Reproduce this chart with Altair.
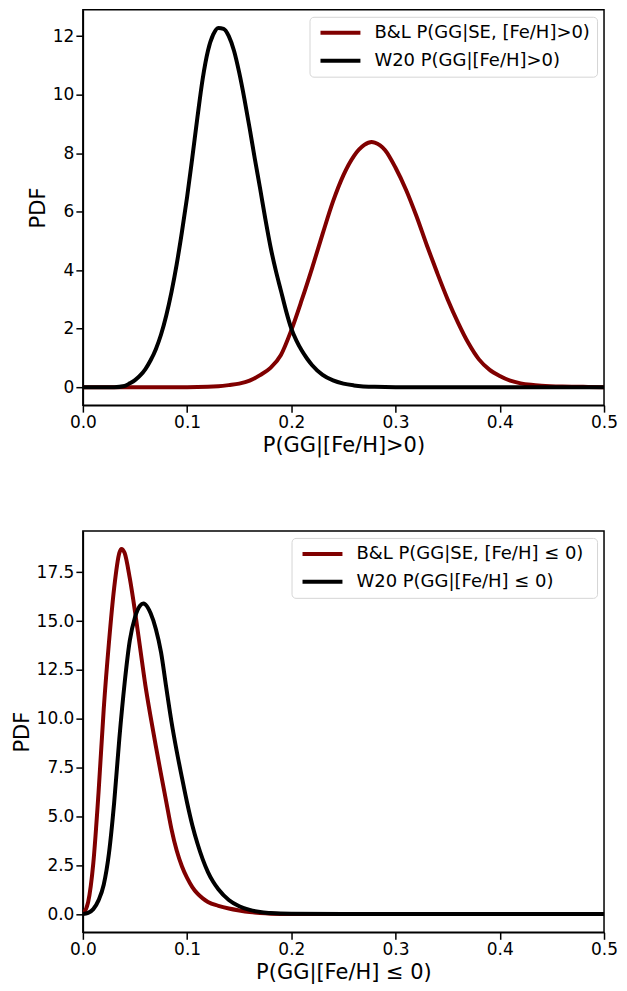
import altair as alt
import pandas as pd

# ---------- Top panel: [Fe/H] > 0 ----------
top_bl_x = [0.0, 0.10, 0.12, 0.13, 0.14, 0.15, 0.16, 0.17, 0.18, 0.19, 0.20, 0.21, 0.22, 0.23,
            0.24, 0.25, 0.26, 0.27, 0.277, 0.28, 0.29, 0.30, 0.31, 0.32, 0.33, 0.34, 0.35,
            0.36, 0.37, 0.38, 0.39, 0.40, 0.41, 0.42, 0.43, 0.44, 0.46, 0.48, 0.50]
top_bl_y = [0.0, 0.0, 0.01, 0.03, 0.07, 0.12, 0.22, 0.41, 0.66, 1.10, 1.95, 2.98, 4.08, 5.24,
            6.35, 7.25, 7.90, 8.28, 8.38, 8.36, 8.10, 7.50, 6.75, 5.85, 4.85, 3.90, 3.00,
            2.20, 1.50, 0.95, 0.60, 0.38, 0.22, 0.13, 0.08, 0.05, 0.02, 0.01, 0.0]

top_w20_x = [0.0, 0.03, 0.04, 0.045, 0.05, 0.055, 0.06, 0.065, 0.07, 0.075, 0.08, 0.085, 0.09,
             0.095, 0.10, 0.105, 0.11, 0.115, 0.12, 0.125, 0.13, 0.135, 0.14, 0.145, 0.15,
             0.155, 0.16, 0.165, 0.17, 0.175, 0.18, 0.185, 0.19, 0.195, 0.20, 0.205, 0.21,
             0.215, 0.22, 0.23, 0.24, 0.25, 0.26, 0.28, 0.30, 0.50]
top_w20_y = [0.0, 0.0, 0.04, 0.13, 0.24, 0.40, 0.62, 0.92, 1.30, 1.80, 2.45, 3.25, 4.20,
             5.30, 6.50, 7.85, 9.25, 10.55, 11.50, 12.05, 12.28, 12.25, 12.00, 11.50, 10.75,
             9.85, 8.85, 7.80, 6.80, 5.76, 4.80, 4.00, 3.30, 2.60, 2.00, 1.58, 1.25,
             0.98, 0.75, 0.42, 0.23, 0.12, 0.06, 0.01, 0.0, 0.0]

# ---------- Bottom panel: [Fe/H] <= 0 ----------
bot_bl_x = [0.0, 0.005, 0.01, 0.015, 0.02, 0.025, 0.03, 0.035, 0.037, 0.04, 0.045, 0.05,
            0.055, 0.06, 0.065, 0.07, 0.075, 0.08, 0.085, 0.09, 0.095, 0.10, 0.105, 0.11,
            0.115, 0.12, 0.13, 0.14, 0.15, 0.16, 0.17, 0.18, 0.20, 0.50]
bot_bl_y = [0.0, 0.6, 2.6, 6.2, 10.5, 13.9, 16.7, 18.5, 18.7, 18.5, 17.2, 15.5,
            13.6, 11.7, 10.1, 8.6, 7.15, 5.75, 4.35, 3.25, 2.45, 1.85, 1.38, 1.04,
            0.80, 0.62, 0.42, 0.28, 0.18, 0.10, 0.05, 0.02, 0.0, 0.0]

bot_w20_x = [0.0, 0.005, 0.01, 0.015, 0.02, 0.025, 0.03, 0.035, 0.04, 0.045, 0.05, 0.055,
             0.058, 0.06, 0.065, 0.07, 0.075, 0.08, 0.085, 0.09, 0.095, 0.10, 0.105, 0.11,
             0.115, 0.12, 0.125, 0.13, 0.14, 0.15, 0.16, 0.17, 0.18, 0.20, 0.25, 0.50]
bot_w20_y = [0.0, 0.06, 0.25, 0.70, 1.5, 3.1, 5.7, 9.0, 11.8, 14.0, 15.2, 15.8,
             15.9, 15.85, 15.4, 14.6, 13.4, 11.6, 9.85, 8.35, 7.0, 5.7, 4.55, 3.6,
             2.8, 2.15, 1.65, 1.27, 0.72, 0.40, 0.21, 0.10, 0.05, 0.01, 0.0, 0.0]

top_names = ["B&L P(GG|SE, [Fe/H]>0)", "W20 P(GG|[Fe/H]>0)"]
bot_names = ["B&L P(GG|SE, [Fe/H] \u2264  0)", "W20 P(GG|[Fe/H] \u2264 0)"]
colors = ["#800000", "#000000"]

x_ticks = [0.0, 0.1, 0.2, 0.3, 0.4, 0.5]
top_y_ticks = [0, 2, 4, 6, 8, 10, 12]
bot_y_ticks = [0.0, 2.5, 5.0, 7.5, 10.0, 12.5, 15.0, 17.5]

top_title_x = "P(GG|[Fe/H]>0)"
bot_title_x = "P(GG|[Fe/H] \u2264 0)"

FONT = "DejaVu Sans"


def frame(xs_list, ys_list, names):
    rows = []
    for xs, ys, n in zip(xs_list, ys_list, names):
        for x, y in zip(xs, ys):
            rows.append({"x": x, "y": y, "series": n})
    return pd.DataFrame(rows)


df_top = frame([top_bl_x, top_w20_x], [top_bl_y, top_w20_y], top_names)
df_bot = frame([bot_bl_x, bot_w20_x], [bot_bl_y, bot_w20_y], bot_names)


def axis(values, fmt, title):
    return alt.Axis(values=values, format=fmt, title=title, grid=False,
                    tickSize=7, tickWidth=1.5, tickColor="black",
                    domainColor="black", domainWidth=1.5,
                    labelFont=FONT, labelFontSize=17, labelColor="black",
                    labelPadding=2, labelFlush=False, labelOverlap=False,
                    titleFont=FONT, titleFontSize=21, titleFontWeight="normal",
                    titleColor="black", titlePadding=4)


def legend():
    return alt.Legend(title=None, orient="top-right", offset=7,
                      symbolType="M-1,0L7,0", symbolStrokeWidth=4, symbolSize=100,
                      labelFont=FONT, labelFontSize=18, labelColor="black",
                      labelLimit=500, labelOffset=40, rowPadding=10,
                      fillColor="white", strokeColor="#d5d5d5", cornerRadius=4,
                      padding=7)


def panel(df, names, ydom, yticks, yfmt, xtitle, h):
    return alt.Chart(df).mark_line(strokeWidth=4, clip=True, interpolate="monotone").encode(
        x=alt.X("x:Q", scale=alt.Scale(domain=[0, 0.5], nice=False, zero=False),
                axis=axis(x_ticks, ".1f", xtitle)),
        y=alt.Y("y:Q", scale=alt.Scale(domain=ydom, nice=False, zero=False),
                axis=axis(yticks, yfmt, "PDF")),
        color=alt.Color("series:N", scale=alt.Scale(domain=names, range=colors),
                        legend=legend()),
        order=alt.Order("x:Q"),
    ).properties(width=522, height=h)


top = panel(df_top, top_names, [-0.615, 12.9], top_y_ticks, "d", top_title_x, 396)
bot = panel(df_bot, bot_names, [-0.935, 19.62], bot_y_ticks, ".1f", bot_title_x, 402)

chart = alt.vconcat(top, bot, spacing=74).resolve_scale(
    color="independent"
).resolve_legend(color="independent").properties(
    padding={"left": 2, "top": 0, "right": 0, "bottom": 0}
).configure(background="white").configure_view(stroke="black", strokeWidth=1.5)

chart.save("out.html", embed_options={"renderer": "svg", "actions": False})
